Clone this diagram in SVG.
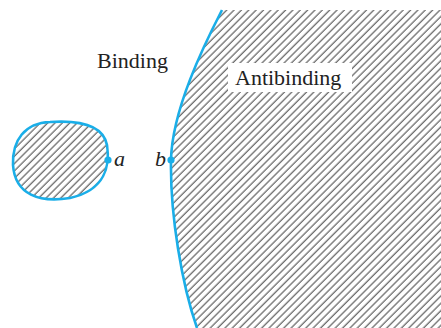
<svg xmlns="http://www.w3.org/2000/svg" width="441" height="328" viewBox="0 0 441 328">
<defs>
<pattern id="hatch" width="5.2" height="10" patternUnits="userSpaceOnUse" patternTransform="rotate(45)">
<line x1="1" y1="-1" x2="1" y2="11" stroke="#333" stroke-width="0.95"/>
</pattern>
<style>
.edge{stroke:#1aaee8;stroke-width:2.6;fill:url(#hatch)}
.dot{fill:#1aaee8}
.lbl{font-family:"Liberation Serif","Times New Roman",serif;font-size:22px;fill:#222}
.it{font-style:italic}
</style>
</defs>
<rect width="441" height="328" fill="#fff"/>
<g id="antibinding-region">
<path d="M222,10 C204,45 172,110 171,160 C170,215 182,285 197,328 L441,328 L441,10 Z" fill="url(#hatch)"/>
<path d="M222,10 C204,45 172,110 171,160 C170,215 182,285 197,328" fill="none" stroke="#1aaee8" stroke-width="2.6"/>
<rect x="228" y="63" width="124" height="29" fill="#fff"/>
<text class="lbl" x="235" y="85">Antibinding</text>
</g>
<g id="blob">
<path class="edge" d="M50,122 C80,120 103,125 107,145 C110,165 106,190 70,198 C40,203 15,195 13,165 C12,140 25,123 50,122 Z"/>
</g>
<g id="point-a">
<circle class="dot" cx="108" cy="160" r="3.6"/>
<text class="lbl it" x="114" y="166">a</text>
</g>
<g id="point-b">
<circle class="dot" cx="171" cy="160" r="3.6"/>
<text class="lbl it" x="155" y="166">b</text>
</g>
<g id="binding-label">
<text class="lbl" x="97" y="68">Binding</text>
</g>
<g id="connectors"/>
</svg>
